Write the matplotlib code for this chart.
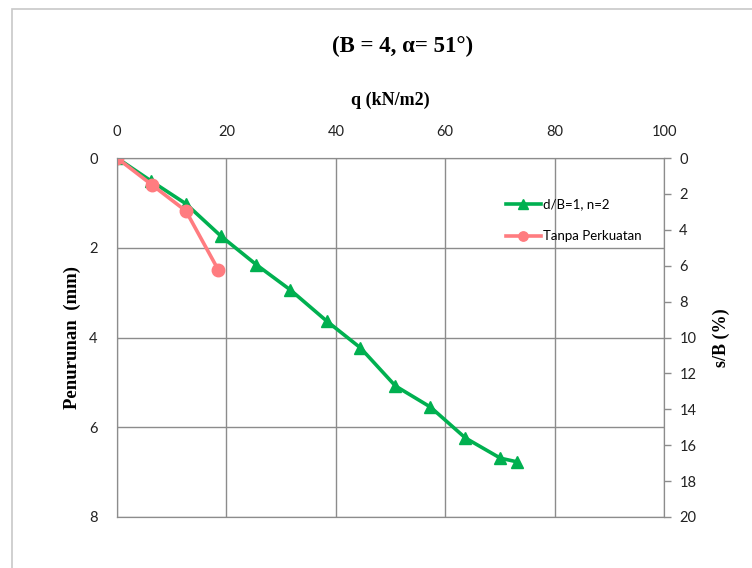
import matplotlib.pyplot as plt

# Load q (kN/m2) vs settlement (mm)
q_perkuatan = [0, 6.2, 12.6, 19.0, 25.5, 31.7, 38.3, 44.5, 50.9, 57.3, 63.7, 70.1, 73.1]
s_perkuatan = [0, 0.51, 1.02, 1.74, 2.38, 2.94, 3.63, 4.23, 5.08, 5.55, 6.24, 6.69, 6.77]

q_tanpa = [0, 6.4, 12.6, 18.5]
s_tanpa = [0, 0.60, 1.18, 2.49]

x_ticks = [0, 20, 40, 60, 80, 100]
y_ticks = [0, 2, 4, 6, 8]
sb_ticks = [0, 2, 4, 6, 8, 10, 12, 14, 16, 18, 20]

green = '#00B050'
pink = '#FF7C80'
grid_col = '#8C8C8C'
tick_font = 'Lato'
serif = 'Liberation Serif'

fig = plt.figure(figsize=(7.52, 5.68), dpi=100)
ax = fig.add_axes([0.1556, 0.0898, 0.7274, 0.632])

ax.plot(q_perkuatan, s_perkuatan, color=green, lw=2.6, marker='^', ms=9,
        label='d/B=1, n=2', zorder=3)
ax.plot(q_tanpa, s_tanpa, color=pink, lw=2.6, marker='o', ms=9,
        label='Tanpa Perkuatan', zorder=4)

ax.set_xlim(0, 100)
ax.set_ylim(8, 0)
ax.set_xticks(x_ticks)
ax.set_yticks(y_ticks)
ax.xaxis.tick_top()
ax.xaxis.set_label_position('top')
ax.tick_params(axis='both', length=0, labelsize=10.5, colors='#222222')
ax.tick_params(axis='x', pad=14)
ax.tick_params(axis='y', pad=14)
for lab in ax.get_xticklabels() + ax.get_yticklabels():
    lab.set_fontfamily(tick_font)
ax.grid(True, color=grid_col, lw=1)
for sp in ax.spines.values():
    sp.set_color(grid_col)

ax.set_xlabel('q (kN/m2)', fontfamily=serif, fontweight='bold', fontsize=13, labelpad=14)
ax.set_ylabel('Penurunan  (mm)', fontfamily=serif, fontweight='bold', fontsize=13.5, labelpad=6)

ax2 = ax.twinx()
ax2.set_ylim(20, 0)
ax2.set_yticks(sb_ticks)
ax2.tick_params(axis='y', length=5, width=1, color=grid_col, labelsize=10.5, colors='#222222', pad=6)
ax2.tick_params(axis='y', color=grid_col)
for lab in ax2.get_yticklabels():
    lab.set_fontfamily(tick_font)
for sp in ax2.spines.values():
    sp.set_color(grid_col)
ax2.set_ylabel('s/B (%)', fontfamily=serif, fontweight='bold', fontsize=13, labelpad=12)

leg = ax.legend(loc='upper left', bbox_to_anchor=(0.69, 0.92), frameon=False,
                prop={'family': tick_font, 'size': 9.5}, handlelength=2.6,
                labelspacing=1.5, handletextpad=0.2, markerscale=0.75)

fig.text(0.535, 0.918, '(B = 4, \u03b1= 51\u00b0)', ha='center', va='center',
         fontfamily=serif, fontweight='bold', fontsize=16.5)

# light frame around the chart area
fig.add_artist(plt.Rectangle((0.016, -0.02), 1.0, 1.005, transform=fig.transFigure,
                             fill=False, edgecolor='#C8C8C8', lw=1.2))

fig.savefig('out.png', dpi=100)
